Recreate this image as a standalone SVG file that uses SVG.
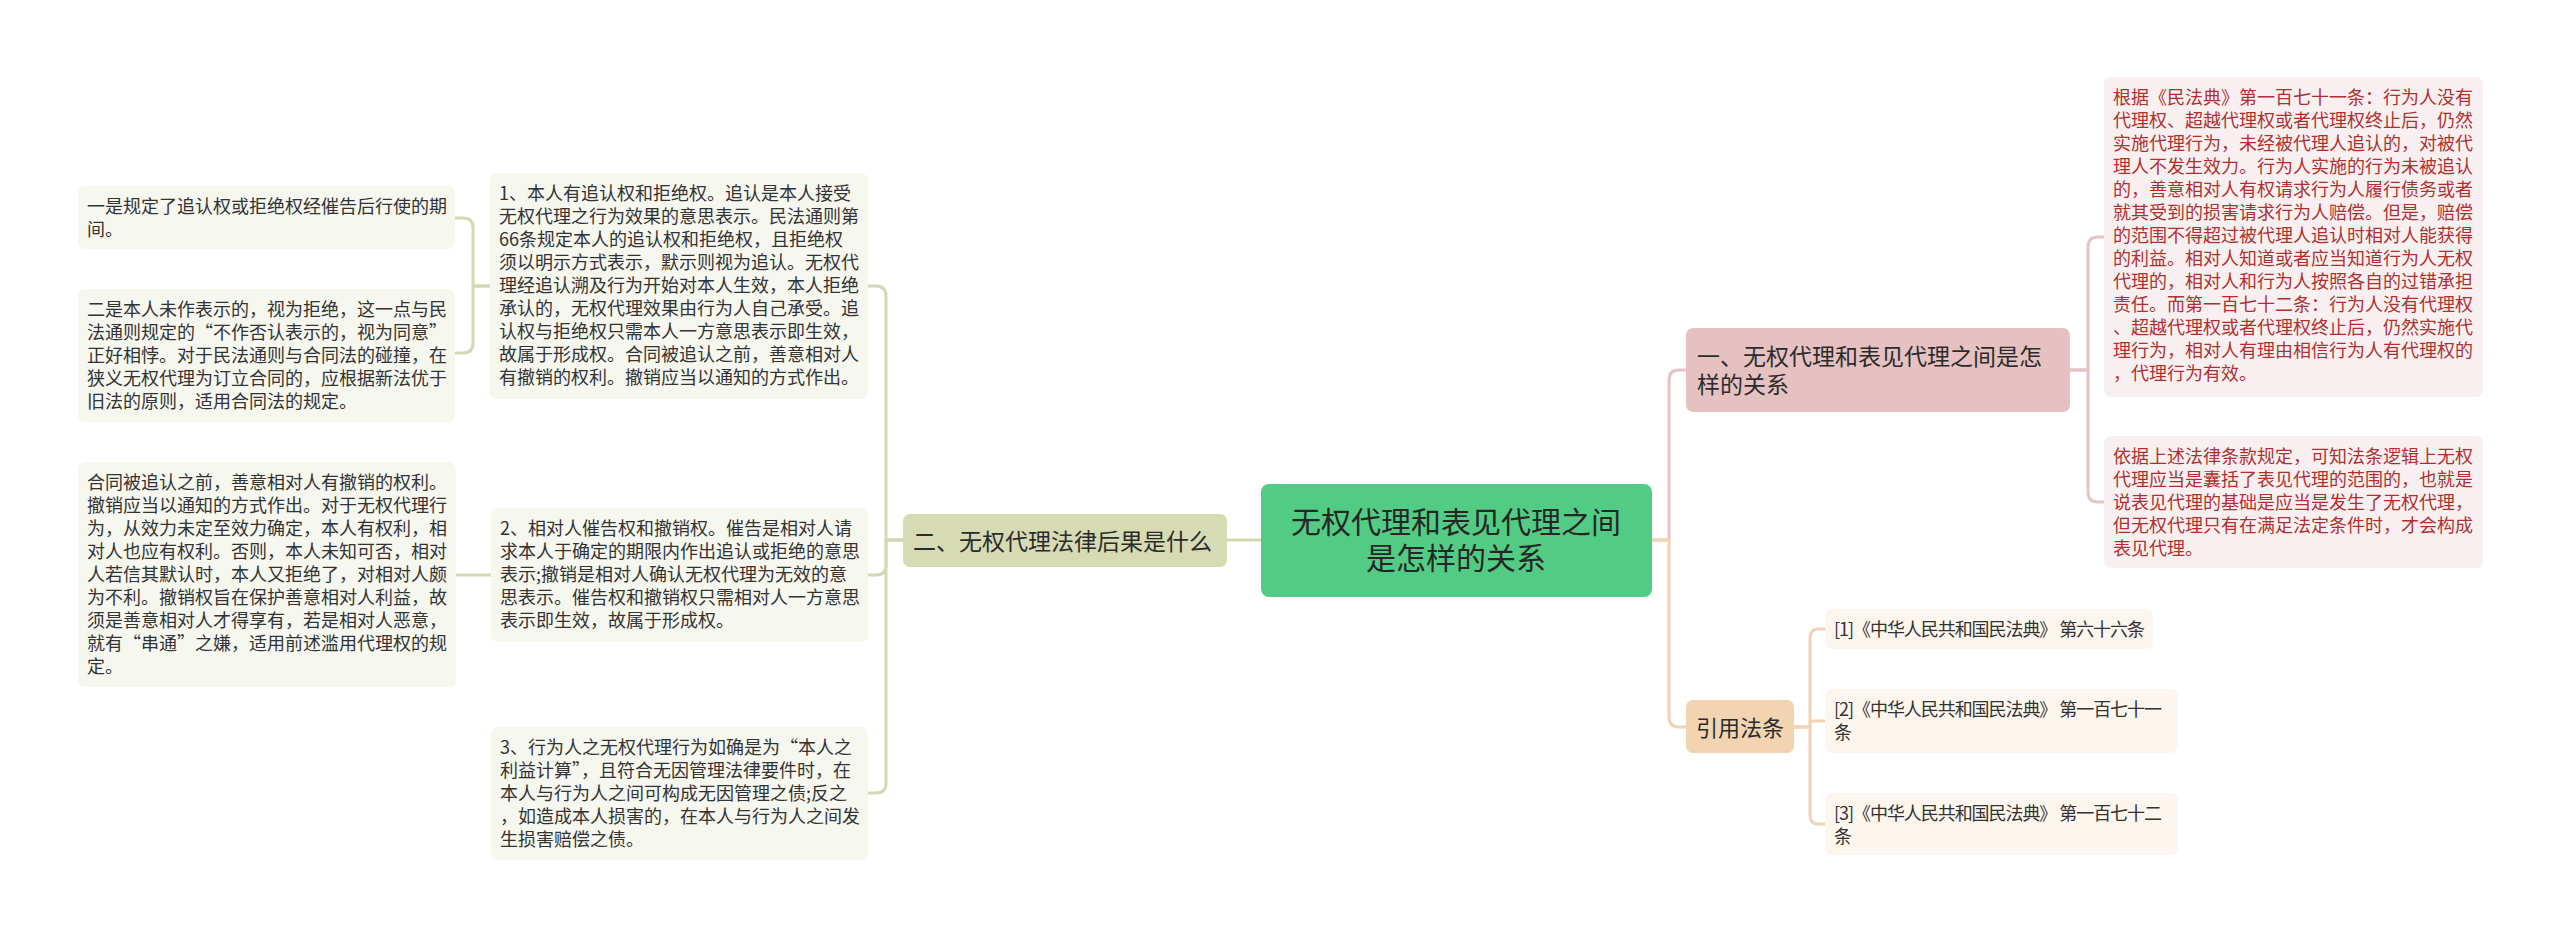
<svg xmlns="http://www.w3.org/2000/svg" width="2560" height="939" viewBox="0 0 2560 939">
<style>
text{font-family:"Microsoft YaHei","Noto Sans CJK SC","Noto Sans",sans-serif;}
.t{font-size:18px;fill:#333333;}
.r{font-size:18px;fill:#b03030;}
.leafL{fill:#f6f7ef;}
.leafR{fill:#f8f0f0;}
.leafC{fill:#fdf6ee;}
.c{fill:none;stroke-width:3;stroke-linecap:round;stroke-linejoin:round;}
.ol{stroke:#d5d9b3;}
.pk{stroke:#e6c4c4;}
.tn{stroke:#f0d4b6;}
</style>
<rect width="2560" height="939" fill="#ffffff"/>
<g id="connectors">
<path class="c ol" d="M1261,540 H1227"/>
<path class="c ol" d="M903,540 H886 V296 Q886,286 876,286 H868"/>
<path class="c ol" d="M903,540 H886 V565 Q886,575 876,575 H868"/>
<path class="c ol" d="M903,540 H886 V783 Q886,793 876,793 H868"/>
<path class="c ol" d="M490,286 H473 V228 Q473,218 463,218 H455"/>
<path class="c ol" d="M490,286 H473 V343 Q473,353 463,353 H455"/>
<path class="c ol" d="M491,575 H456"/>
<path class="c pk" d="M1652,540 H1669 V380 Q1669,370 1679,370 H1686"/>
<path class="c tn" d="M1652,540 H1669 V717 Q1669,727 1679,727 H1686"/>
<path class="c pk" d="M2070,370 H2088 V247 Q2088,237 2098,237 H2104"/>
<path class="c pk" d="M2070,370 H2088 V492 Q2088,502 2098,502 H2104"/>
<path class="c tn" d="M1794,727 H1810 V639 Q1810,629 1818,629 H1825"/>
<path class="c tn" d="M1794,727 H1810 V721 H1825"/>
<path class="c tn" d="M1794,727 H1810 V814 Q1810,824 1818,824 H1825"/>
</g>
<g id="center">
<rect x="1261" y="484" width="391" height="113" rx="8" fill="#52cc84"/>
<text x="1456" y="533" font-size="30" fill="#262626" text-anchor="middle">无权代理和表见代理之间</text>
<text x="1456" y="569" font-size="30" fill="#262626" text-anchor="middle">是怎样的关系</text>
</g>
<g id="n2">
<rect x="903" y="514" width="324" height="53" rx="7" fill="#d7dbb4"/>
<text x="913" y="550" font-size="23" fill="#2b2b2b">二、无权代理法律后果是什么</text>
</g>
<g id="b1">
<rect class="leafL" x="490" y="173" width="378" height="226" rx="7"/>
<text class="t" x="499" y="200"><tspan x="499">1、本人有追认权和拒绝权。追认是本人接受</tspan><tspan x="499" dy="23">无权代理之行为效果的意思表示。民法通则第</tspan><tspan x="499" dy="23">66条规定本人的追认权和拒绝权，且拒绝权</tspan><tspan x="499" dy="23">须以明示方式表示，默示则视为追认。无权代</tspan><tspan x="499" dy="23">理经追认溯及行为开始对本人生效，本人拒绝</tspan><tspan x="499" dy="23">承认的，无权代理效果由行为人自己承受。追</tspan><tspan x="499" dy="23">认权与拒绝权只需本人一方意思表示即生效，</tspan><tspan x="499" dy="23">故属于形成权。合同被追认之前，善意相对人</tspan><tspan x="499" dy="23">有撤销的权利。撤销应当以通知的方式作出。</tspan></text>
</g>
<g id="a1">
<rect class="leafL" x="78" y="186" width="377" height="63" rx="7"/>
<text class="t" x="87" y="213"><tspan x="87">一是规定了追认权或拒绝权经催告后行使的期</tspan><tspan x="87" dy="23">间。</tspan></text>
</g>
<g id="a2">
<rect class="leafL" x="78" y="289" width="377" height="133" rx="7"/>
<text class="t" x="87" y="316"><tspan x="87">二是本人未作表示的，视为拒绝，这一点与民</tspan><tspan x="87" dy="23">法通则规定的“不作否认表示的，视为同意”</tspan><tspan x="87" dy="23">正好相悖。对于民法通则与合同法的碰撞，在</tspan><tspan x="87" dy="23">狭义无权代理为订立合同的，应根据新法优于</tspan><tspan x="87" dy="23">旧法的原则，适用合同法的规定。</tspan></text>
</g>
<g id="b2">
<rect class="leafL" x="491" y="508" width="377" height="134" rx="7"/>
<text class="t" x="500" y="535"><tspan x="500">2、相对人催告权和撤销权。催告是相对人请</tspan><tspan x="500" dy="23">求本人于确定的期限内作出追认或拒绝的意思</tspan><tspan x="500" dy="23">表示;撤销是相对人确认无权代理为无效的意</tspan><tspan x="500" dy="23">思表示。催告权和撤销权只需相对人一方意思</tspan><tspan x="500" dy="23">表示即生效，故属于形成权。</tspan></text>
</g>
<g id="a3">
<rect class="leafL" x="78" y="462" width="378" height="225" rx="7"/>
<text class="t" x="87" y="489"><tspan x="87">合同被追认之前，善意相对人有撤销的权利。</tspan><tspan x="87" dy="23">撤销应当以通知的方式作出。对于无权代理行</tspan><tspan x="87" dy="23">为，从效力未定至效力确定，本人有权利，相</tspan><tspan x="87" dy="23">对人也应有权利。否则，本人未知可否，相对</tspan><tspan x="87" dy="23">人若信其默认时，本人又拒绝了，对相对人颇</tspan><tspan x="87" dy="23">为不利。撤销权旨在保护善意相对人利益，故</tspan><tspan x="87" dy="23">须是善意相对人才得享有，若是相对人恶意，</tspan><tspan x="87" dy="23">就有“串通”之嫌，适用前述滥用代理权的规</tspan><tspan x="87" dy="23">定。</tspan></text>
</g>
<g id="b3">
<rect class="leafL" x="491" y="727" width="377" height="133" rx="7"/>
<text class="t" x="500" y="754"><tspan x="500">3、行为人之无权代理行为如确是为“本人之</tspan><tspan x="500" dy="23">利益计算”，且符合无因管理法律要件时，在</tspan><tspan x="500" dy="23">本人与行为人之间可构成无因管理之债;反之</tspan><tspan x="500" dy="23">，如造成本人损害的，在本人与行为人之间发</tspan><tspan x="500" dy="23">生损害赔偿之债。</tspan></text>
</g>
<g id="n1">
<rect x="1686" y="328" width="384" height="84" rx="7" fill="#e6c1c1"/>
<text x="1697" y="365" font-size="23" fill="#2b2b2b"><tspan x="1697">一、无权代理和表见代理之间是怎</tspan><tspan x="1697" dy="28">样的关系</tspan></text>
</g>
<g id="r1">
<rect class="leafR" x="2104" y="77" width="379" height="320" rx="7"/>
<text class="r" x="2113" y="104"><tspan x="2113">根据《民法典》第一百七十一条：行为人没有</tspan><tspan x="2113" dy="23">代理权、超越代理权或者代理权终止后，仍然</tspan><tspan x="2113" dy="23">实施代理行为，未经被代理人追认的，对被代</tspan><tspan x="2113" dy="23">理人不发生效力。行为人实施的行为未被追认</tspan><tspan x="2113" dy="23">的，善意相对人有权请求行为人履行债务或者</tspan><tspan x="2113" dy="23">就其受到的损害请求行为人赔偿。但是，赔偿</tspan><tspan x="2113" dy="23">的范围不得超过被代理人追认时相对人能获得</tspan><tspan x="2113" dy="23">的利益。相对人知道或者应当知道行为人无权</tspan><tspan x="2113" dy="23">代理的，相对人和行为人按照各自的过错承担</tspan><tspan x="2113" dy="23">责任。而第一百七十二条：行为人没有代理权</tspan><tspan x="2113" dy="23">、超越代理权或者代理权终止后，仍然实施代</tspan><tspan x="2113" dy="23">理行为，相对人有理由相信行为人有代理权的</tspan><tspan x="2113" dy="23">，代理行为有效。</tspan></text>
</g>
<g id="r2">
<rect class="leafR" x="2104" y="436" width="379" height="132" rx="7"/>
<text class="r" x="2113" y="463"><tspan x="2113">依据上述法律条款规定，可知法条逻辑上无权</tspan><tspan x="2113" dy="23">代理应当是囊括了表见代理的范围的，也就是</tspan><tspan x="2113" dy="23">说表见代理的基础是应当是发生了无权代理，</tspan><tspan x="2113" dy="23">但无权代理只有在满足法定条件时，才会构成</tspan><tspan x="2113" dy="23">表见代理。</tspan></text>
</g>
<g id="n3">
<rect x="1686" y="700" width="108" height="53" rx="7" fill="#f2d4b1"/>
<text x="1740" y="736" font-size="22" fill="#2b2b2b" text-anchor="middle">引用法条</text>
</g>
<g id="c1">
<rect class="leafC" x="1825" y="609" width="328" height="40" rx="7"/>
<text class="t" x="1834" y="636" textLength="311" lengthAdjust="spacing">[1]《中华人民共和国民法典》 第六十六条</text>
</g>
<g id="c2">
<rect class="leafC" x="1825" y="689" width="353" height="64" rx="7"/>
<text class="t" x="1834" y="716" textLength="328" lengthAdjust="spacing">[2]《中华人民共和国民法典》 第一百七十一</text>
<text class="t" x="1834" y="739">条</text>
</g>
<g id="c3">
<rect class="leafC" x="1825" y="793" width="353" height="62" rx="7"/>
<text class="t" x="1834" y="820" textLength="328" lengthAdjust="spacing">[3]《中华人民共和国民法典》 第一百七十二</text>
<text class="t" x="1834" y="843">条</text>
</g>
</svg>
